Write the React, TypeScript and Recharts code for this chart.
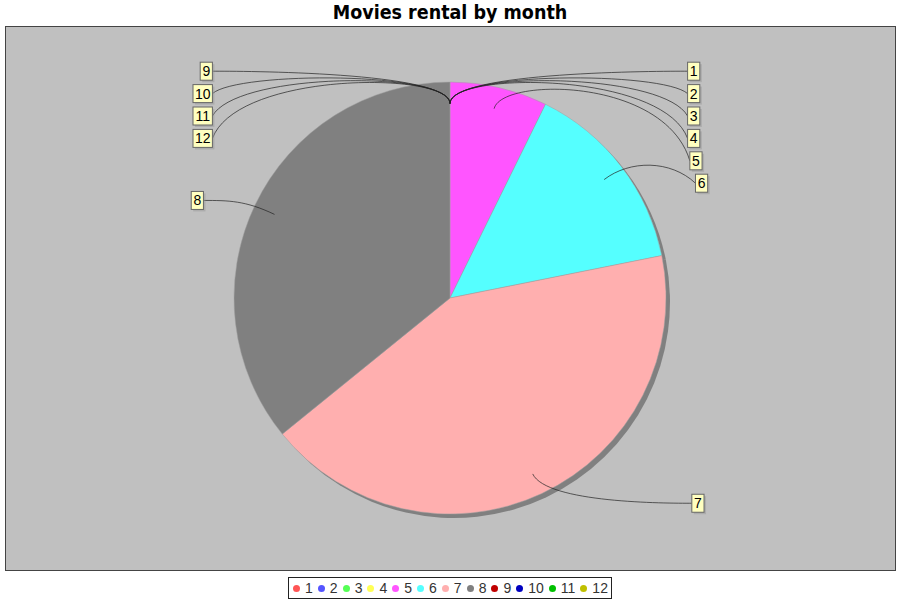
import { Cell, Legend, Pie, PieChart } from "recharts";

const months = ["1", "2", "3", "4", "5", "6", "7", "8", "9", "10", "11", "12"];
const rentals = [0, 0, 0, 0, 1156, 2311, 6709, 5686, 0, 0, 0, 0];
const sliceColors = [
  "#FF5555", "#5555FF", "#55FF55", "#FFFF55", "#FF55FF", "#55FFFF",
  "#FFAFAF", "#808080", "#C00000", "#0000C0", "#00C000", "#C0C000",
];

const data = months.map((m, i) => ({ month: m, rentals: rentals[i] }));
const total = rentals.reduce((a, b) => a + b, 0);

// mid angle of each slice, degrees clockwise from 12 o'clock
const midAngles = (() => {
  let acc = 0;
  return rentals.map((v) => {
    const a = ((acc + v / 2) / total) * 360;
    acc += v;
    return a;
  });
})();

const LABEL_STEP = 22.4;
const LABEL_FONT = "'Liberation Sans', Arial, sans-serif";
const TITLE_FONT = "'DejaVu Sans Condensed', 'DejaVu Sans', sans-serif";

// jfreechart-ish label distribution: natural y, then push overlapping ones down
function layoutLabels(cy: number, R: number): number[] {
  const rE = R * 1.05;
  const ys = midAngles.map((a) => cy - rE * Math.cos((a * Math.PI) / 180));
  const out = [...ys];
  for (const side of [true, false]) {
    const idx = midAngles
      .map((_, i) => i)
      .filter((i) => midAngles[i] < 180 === side)
      .sort((a, b) => ys[a] - ys[b] || a - b);
    let last = -Infinity;
    for (const i of idx) {
      const y = Math.max(ys[i], last + LABEL_STEP);
      out[i] = y;
      last = y;
    }
  }
  return out;
}

function renderLabel(props: any) {
  const { cx, cy, outerRadius: R, index } = props;
  const ys = layoutLabels(cy, R);
  const a = (midAngles[index] * Math.PI) / 180;
  const sin = Math.sin(a);
  const cos = Math.cos(a);
  const dir = midAngles[index] < 180 ? 1 : -1;
  const ty = ys[index];
  const tx = cx + dir * (R * 1.1 + R * 0.046 * Math.abs(sin));
  const lx = cx + 0.9 * R * sin;
  const ly = cy - 0.9 * R * cos;
  const ex = cx + 1.05 * R * sin;
  const ey = cy - 1.05 * R * cos;
  const ax = tx - dir * 25;
  const text = months[index];
  const w = text.length * 7.2 + 5;
  const h = 18;
  const bx = dir > 0 ? tx : tx - w;
  return (
    <g key={`lbl-${index}`}>
      <path
        d={`M${lx},${ly} C${ex},${ey} ${ax},${ey} ${tx},${ty}`}
        fill="none"
        stroke="#222"
        strokeWidth={0.7}
      />
      <rect x={bx + 2} y={ty - h / 2 + 2} width={w} height={h} fill="rgba(151,151,151,0.5)" />
      <rect x={bx} y={ty - h / 2} width={w} height={h} fill="#FFFFC0" stroke="#666" strokeWidth={1} />
      <text
        x={bx + w / 2}
        y={ty + 5}
        textAnchor="middle"
        fontSize={14}
        fontFamily={LABEL_FONT}
        fill="#000"
      >
        {text}
      </text>
    </g>
  );
}

function LegendBox() {
  return (
    <div style={{ display: "flex", justifyContent: "center" }}>
      <div
        style={{
          display: "flex",
          alignItems: "center",
          border: "1px solid #222",
          padding: "2px 3px 2px 4px",
          height: 16,
          background: "#fff",
          fontFamily: LABEL_FONT,
          fontSize: 14,
          lineHeight: "16px",
        }}
      >
        {months.map((m, i) => (
          <div key={m} style={{ display: "flex", alignItems: "center", marginRight: i < months.length - 1 ? 5 : 0 }}>
            <span
              style={{
                width: 7,
                height: 7,
                borderRadius: "50%",
                background: sliceColors[i],
                marginRight: 5,
                display: "inline-block",
              }}
            />
            <span style={{ color: "#333" }}>{m}</span>
          </div>
        ))}
      </div>
    </div>
  );
}

export default function App() {
  return (
    <div style={{ position: "absolute", left: 0, top: 0, width: 900, height: 600, background: "#fff" }}>
      <div
        style={{
          position: "absolute",
          left: 0,
          top: 0,
          width: 900,
          textAlign: "center",
          fontFamily: TITLE_FONT,
          fontStretch: "condensed",
          fontWeight: "bold",
          fontSize: 19.5,
          lineHeight: "26px",
        }}
      >
        Movies rental by month
      </div>
      <div
        style={{
          position: "absolute",
          left: 5,
          top: 26,
          width: 889,
          height: 543,
          background: "#C0C0C0",
          border: "1px solid #444",
        }}
      />
      <div style={{ position: "absolute", left: 0, top: 0 }}>
        <PieChart width={900} height={600} margin={{ top: 0, right: 0, bottom: 0, left: 0 }}>
          <Pie
            data={data}
            dataKey="rentals"
            nameKey="month"
            cx={454}
            cy={302}
            outerRadius={216}
            startAngle={90}
            endAngle={-270}
            fill="#808080"
            stroke="none"
            legendType="none"
            isAnimationActive={false}
          />
          <Pie
            data={data}
            dataKey="rentals"
            nameKey="month"
            cx={450}
            cy={298}
            outerRadius={216}
            startAngle={90}
            endAngle={-270}
            label={renderLabel}
            labelLine={false}
            isAnimationActive={false}
          >
            {data.map((d, i) => (
              <Cell key={d.month} fill={sliceColors[i]} stroke="#a0a0a0" strokeWidth={0.5} />
            ))}
          </Pie>
          <Legend
            content={() => <LegendBox />}
            wrapperStyle={{ position: "absolute", left: 0, top: 577, width: 900, height: 22 }}
          />
        </PieChart>
      </div>
    </div>
  );
}
